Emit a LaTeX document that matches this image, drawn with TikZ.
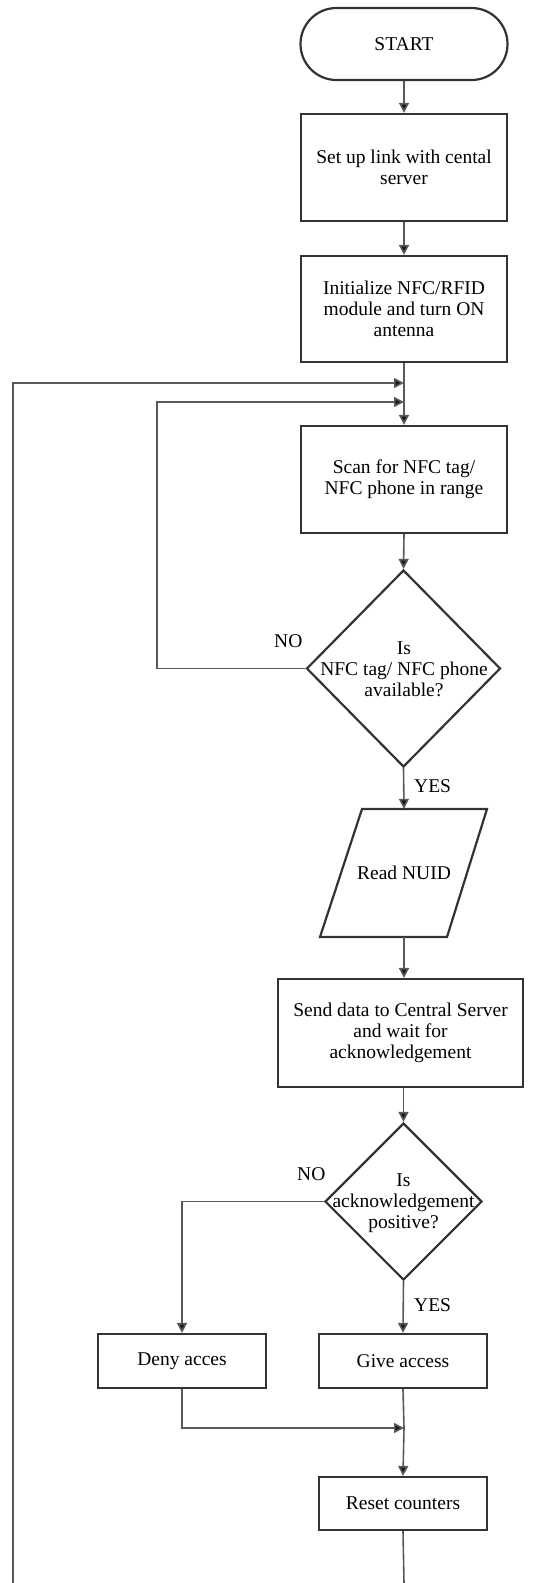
\documentclass[tikz,border=0pt]{standalone}
\usepackage{fontspec}
\setmainfont{Liberation Serif}
\usetikzlibrary{shapes.geometric,arrows.meta}
\begin{document}
\begin{tikzpicture}[x=1pt,y=-1pt,
  txt/.style={font=\fontsize{19.5}{21}\selectfont, align=center, inner sep=0pt},
  shp/.style={draw=black!80, line width=2.2pt},
  box/.style={shp, txt, rectangle},
  dia/.style={shp, diamond, inner sep=0pt},
  conn/.style={draw=black!65, line width=1.6pt},
  arr/.style={conn, -{Triangle[length=10pt,width=10pt,fill=black!90]}},
  lbl/.style={txt, anchor=west}
]
\useasboundingbox (0,0) rectangle (545,1583);

% nodes
\node[box, rounded corners=36pt, minimum width=207pt, minimum height=72pt] (start) at (404,44) {START};
\node[box, minimum width=206pt, minimum height=107pt] (b1) at (404,167.5) {Set up link with cental\\server};
\node[box, minimum width=206pt, minimum height=106pt] (b2) at (404,309) {Initialize NFC/RFID\\module and turn ON\\antenna};
\node[box, minimum width=206pt, minimum height=107pt] (scan) at (404,479.5) {Scan for NFC tag/\\NFC phone in range};
\node[dia, minimum width=194pt, minimum height=197pt] (d1) at (403.5,668.5) {};
\node[txt] (d1t) at (404,669) {Is\\NFC tag/ NFC phone\\available?};

\draw[shp] (362,809) -- (487,809) -- (447,937) -- (320,937) -- cycle;
\node[txt, minimum width=120pt, minimum height=128pt] (read) at (404,873) {Read NUID};

\node[box, minimum width=245pt, minimum height=108pt] (send) at (400.5,1033) {Send data to Central Server\\and wait for\\acknowledgement};
\node[dia, minimum width=157pt, minimum height=157pt] (d2) at (403.5,1201.5) {};
\node[txt] (d2t) at (403.5,1203) {Is\\acknowledgement\\positive?};

\node[box, minimum width=168pt, minimum height=54pt] (deny) at (182,1361) {Deny acces};
\node[box, minimum width=168pt, minimum height=54pt] (give) at (403,1361) {Give access};
\node[box, minimum width=168pt, minimum height=53pt] (reset) at (403,1503.5) {Reset counters};

% labels
\node[lbl] (no1) at (274,641) {NO};
\node[lbl] (yes1) at (414,786) {YES};
\node[lbl] (no2) at (297,1174) {NO};
\node[lbl] (yes2) at (414,1305) {YES};

% helper coordinates
\coordinate (m1) at (404,383);
\coordinate (m2) at (404,402);
\coordinate (m3) at (404,1428);
\coordinate (endR) at (404,1583);
\coordinate (endL) at (13,1583);

% connectors
\draw[arr] (start.south) -- (b1.north);
\draw[arr] (b1.south) -- (b2.north);
\draw[arr] (b2.south) -- (scan.north);
\draw[arr] (scan.south) -- (d1.north);
\draw[arr] (d1.west) -- (157,668.5) -- (157,402) -- (m2);
\draw[arr] (d1.south) -- (read.north);
\draw[arr] (read.south) -- (send.north -| read.south);
\draw[arr] (send.south -| d2.north) -- (d2.north);
\draw[arr] (d2.west) -| (deny.north);
\draw[arr] (d2.south) -- (give.north);
\draw[conn] (give.south) -- (m3);
\draw[arr] (m3) -- (reset.north);
\draw[arr] (deny.south) |- (m3);
\draw[conn] (reset.south) -- (endR);
\draw[arr] (endL) -- (13,383) -- (m1);
\end{tikzpicture}
\end{document}
